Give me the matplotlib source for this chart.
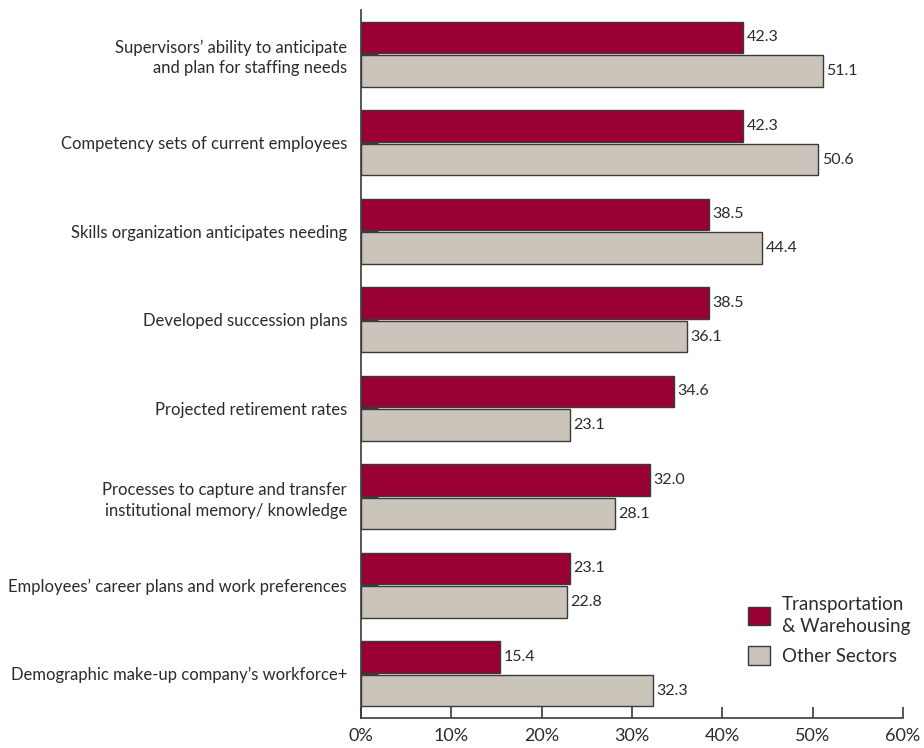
import matplotlib
matplotlib.use("Agg")
import matplotlib.pyplot as plt
import numpy as np
from matplotlib.patches import Patch

plt.rcParams['font.family'] = ['Lato', 'DejaVu Sans']

categories = [
    "Supervisors\u2019 ability to anticipate\nand plan for staffing needs",
    "Competency sets of current employees",
    "Skills organization anticipates needing",
    "Developed succession plans",
    "Projected retirement rates",
    "Processes to capture and transfer\ninstitutional memory/ knowledge",
    "Employees\u2019 career plans and work preferences",
    "Demographic make-up company\u2019s workforce+",
]
transport = [42.3, 42.3, 38.5, 38.5, 34.6, 32.0, 23.1, 15.4]
other = [51.1, 50.6, 44.4, 36.1, 23.1, 28.1, 22.8, 32.3]
series_names = ["Transportation\n& Warehousing", "Other Sectors"]
xticks = [0, 10, 20, 30, 40, 50, 60]

red = "#990033"
grey = "#cbc4bb"
edge = "#3a3a3a"
text_col = "#2b2b2b"

W, H = 924, 748
fig = plt.figure(figsize=(W / 100, H / 100), dpi=100)
ax = fig.add_axes([361 / W, 1 - 718 / H, (903 - 361) / W, (718 - 10) / H])

y = np.arange(len(categories))
h = 0.36
off = 0.19
ax.barh(y - off, transport, height=h, color=red, edgecolor=edge, linewidth=1.0)
ax.barh(y + off, other, height=h, color=grey, edgecolor=edge, linewidth=1.0)

for yi, v in zip(y - off, transport):
    ax.text(v + 0.4, yi, f"{v:.1f}", va="center", ha="left", fontsize=11.5, color=text_col)
for yi, v in zip(y + off, other):
    ax.text(v + 0.4, yi, f"{v:.1f}", va="center", ha="left", fontsize=11.5, color=text_col)

ax.set_xlim(0, 60)
ax.set_ylim(len(categories) - 0.5, -0.5)
ax.set_xticks(xticks)
ax.set_xticklabels([f"{t}%" for t in xticks], fontsize=13, color=text_col)
ax.set_yticks(y)
ax.set_yticklabels(categories, fontsize=12, color=text_col, linespacing=1.35)

ax.tick_params(axis="x", direction="in", length=8, width=1.2, color=edge, pad=7)
ax.tick_params(axis="y", direction="in", length=12, width=1.0, color=edge, pad=10)

for s in ["top", "right"]:
    ax.spines[s].set_visible(False)
for s in ["left", "bottom"]:
    ax.spines[s].set_color(edge)
    ax.spines[s].set_linewidth(1.2)

handles = [Patch(facecolor=red, edgecolor=edge, label=series_names[0]),
           Patch(facecolor=grey, edgecolor=edge, label=series_names[1])]
leg = fig.legend(handles=handles, loc="upper left",
                 bbox_to_anchor=(748 / W, 1 - 596 / H), bbox_transform=fig.transFigure,
                 frameon=False, fontsize=13.5, handlelength=1.15, handleheight=1.15,
                 handletextpad=0.65, labelspacing=0.6, borderpad=0, borderaxespad=0,
                 labelcolor=text_col)
for t in leg.get_texts():
    t.set_linespacing(1.35)

fig.savefig("out.png", dpi=100)
